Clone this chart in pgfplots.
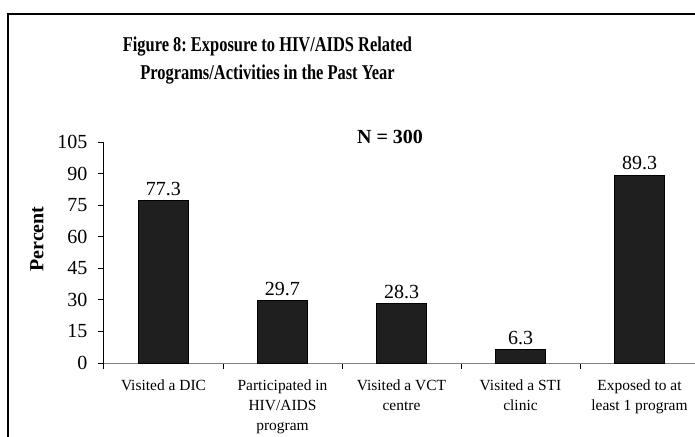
\documentclass[border=0pt]{standalone}
\usepackage{pgfplots}
\pgfplotsset{compat=1.18}
\usepackage{fontspec}
\setmainfont{Liberation Serif}
\usepackage{graphicx}
\frenchspacing
\begin{document}
\begin{tikzpicture}
\draw[line width=1pt] (-72pt,-80pt) rectangle (470pt,261.75pt);
\begin{axis}[
  at={(0,0)}, anchor=south west,
  scale only axis, width=446.25pt, height=165.75pt,
  xmin=-0.5, xmax=4.5, ymin=0, ymax=105,
  ytick={0,15,...,105},
  xtick={0,1,2,3,4},
  xticklabels={Visited a DIC, Participated in\\HIV/AIDS\\program, Visited a VCT\\centre, Visited a STI\\clinic, Exposed to at\\least 1 program},
  minor xtick={-0.5,0.5,1.5,2.5,3.5,4.5},
  axis x line*=bottom, axis y line*=left,
  x axis line style={draw=gray, line width=0.75pt},
  y axis line style={draw=black, line width=0.75pt},
  tick align=outside,
  major x tick style={draw=none},
  minor x tick style={draw=black, line width=0.75pt},
  minor tick length=4.5pt,
  major tick length=4.5pt,
  y tick style={draw=black, line width=0.75pt},
  yticklabel style={font=\fontsize{15}{18}\selectfont, xshift=-4.5pt},
  xticklabel style={font=\fontsize{11.6}{15}\selectfont, align=center, anchor=north, yshift=-4.5pt},
  /pgf/number format/assume math mode=true,
  ybar, bar width=37.5pt,
  nodes near coords,
  nodes near coords style={font=\fontsize{15}{18}\selectfont, /pgf/number format/fixed, /pgf/number format/precision=1},
  clip=false,
]
\addplot[fill=black!88, draw=black, line width=0.75pt] coordinates {(0,77.3) (1,29.7) (2,28.3) (3,6.3) (4,89.3)};
\end{axis}
\node[font=\bfseries\fontsize{15.8}{21}\selectfont, align=center] at (122.6pt,227pt)
  {\scalebox{0.78}[1]{Figure 8: Exposure to HIV/AIDS Related}\\\scalebox{0.78}[1]{Programs/Activities in the Past Year}};
\node[font=\bfseries\fontsize{15}{18}\selectfont] at (214.5pt,169.5pt) {N = 300};
\node[font=\bfseries\fontsize{15}{18}\selectfont, rotate=90] at (-50.25pt,93pt) {Percent};
\pgfresetboundingbox
\path[use as bounding box] (-78pt,-54.75pt) rectangle (443.25pt,272.25pt);
\end{tikzpicture}
\end{document}
